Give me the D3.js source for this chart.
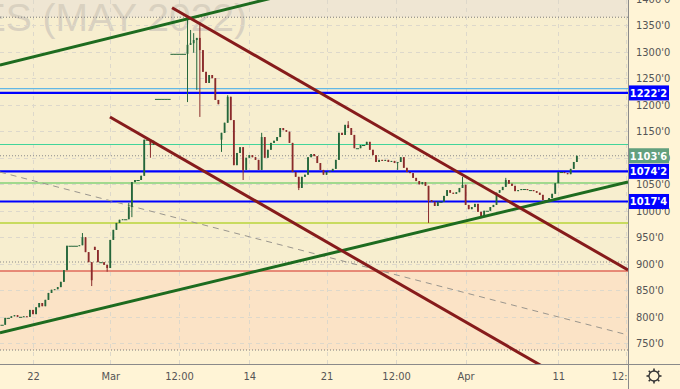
<!DOCTYPE html>
<html>
<head>
<meta charset="utf-8">
<script src="https://cdn.jsdelivr.net/npm/d3@7"></script>
<style>
  body { margin: 0; background: #fff4d6; }
  text { font-family: "Liberation Sans Narrow", "DejaVu Sans Condensed", "Liberation Sans", sans-serif; }
</style>
</head>
<body>
<div id="chart"></div>
<script>
// ---- data ----
// closes of the bars, 5 bars per trading day, first bar 2 days before Feb 22
var closes = [
  785, 798, 798, 801, 803, 800, 800, 801, 800, 813,
  805, 818, 826, 820, 832, 845, 851, 852, 856, 866,
  888, 934, 934, 934, 934, 935, 950, 922, 903, 869,
  926, 903, 903, 898, 892, 945, 964, 977, 983, 984,
  984, 1007, 1054, 1058, 1058, 1066, 1134, 1134, 1124, 1132,
  1211, 1211, 1211, 1211, 1211, 1296, 1296, 1296, 1296, 1296,
  1313, 1316, 1322, 1326, 1303, 1262, 1241, 1256, 1250, 1209,
  1201, 1147, 1166, 1215, 1171, 1086, 1109, 1120, 1077, 1100,
  1105, 1101, 1096, 1077, 1139, 1100, 1115, 1128, 1132, 1139,
  1156, 1152, 1149, 1128, 1073, 1064, 1043, 1064, 1068, 1101,
  1107, 1103, 1090, 1077, 1068, 1073, 1075, 1079, 1096, 1147,
  1143, 1162, 1156, 1143, 1118, 1118, 1124, 1124, 1130, 1115,
  1105, 1092, 1096, 1094, 1096, 1092, 1094, 1090, 1092, 1101,
  1081, 1073, 1071, 1062, 1056, 1050, 1054, 1047, 1020, 1017,
  1009, 1017, 1017, 1028, 1039, 1034, 1032, 1035, 1043, 1049,
  1011, 1003, 1007, 1013, 998, 990, 1000, 1000, 1007, 1011,
  1034, 1039, 1045, 1058, 1051, 1047, 1037, 1039, 1041, 1041,
  1039, 1039, 1037, 1034, 1030, 1020, 1020, 1024, 1032, 1052,
  1073, 1073, 1071, 1069, 1079, 1092, 1103.75
];
// [bar, high, low] for the longer wicks
var wicks = [
  [26, 958, null], [29, null, 858], [34, null, 885], [41, 1015, null],
  [42, null, 988], [48, null, 1100], [60, 1365, 1205], [61, 1341, null],
  [62, 1335, 1298], [63, null, 1228], [64, 1356, 1177], [71, null, 1111],
  [73, 1218, null], [78, null, 1058], [84, 1147, null], [96, null, 1039],
  [112, 1169, null], [128, null, 1077], [138, null, 977], [149, 1064, null],
  [155, null, 986], [163, 1062, null]
];
// bars that open away from the previous close
var gapOpens = [[30, 932], [50, 1211], [55, 1296], [71, 1134]];
var firstBarDay = -2, barsPerDay = 5;

var xTickDays = [0, 5, 9.45, 14, 19, 23.5, 28, 34, 38.35];
var xTickLabels = ["22", "Mar", "12:00", "14", "21", "12:00", "Apr", "11", "12:00"];
var yTicks = [750, 800, 850, 900, 950, 1000, 1050, 1100, 1150, 1200, 1250, 1300, 1350, 1400];

var levelPrices = [1365, 1230.5, 1222.25, 1125, 1103.75, 1074.25, 1052.4, 1017.5, 977, 903.4, 886.4, 737.4];
var tagPrices = [1222.25, 1103.75, 1074.25, 1017.5];
var zoneEdges = [1397.5, 1365, 886.4, 737.4, 711];

// trend lines: [day0, price0, day1, price1]
var greenLines = [[-2.14, 1275, 16, 1405], [-2.14, 770, 38.51, 1054.3]];
var redLines = [[9.0, 1383, 38.51, 888.3], [4.98, 1176.8, 34, 689.4]];
var dashLine = [-2.14, 1073, 38.51, 765.7];

// ---- layout ----
var W = 680, H = 389, plotW = 628, plotH = 364;

var svg = d3.select("#chart").append("svg")
    .attr("width", W)
    .attr("height", H);

var x = d3.scaleLinear().domain([-2.136, 38.51]).range([0, plotW]);
var y = d3.scaleLinear().domain([711, 1397.5]).range([plotH, 0]);
var barStep = x(1 / barsPerDay) - x(0);

var fmt = function(v) { var f = Math.floor(v); return f + "'" + Math.round((v - f) * 8); };

svg.append("rect").attr("width", W).attr("height", H).attr("fill", "#fff4d6");

svg.append("clipPath").attr("id", "plotclip")
  .append("rect").attr("width", plotW).attr("height", plotH);

var plot = svg.append("g").attr("clip-path", "url(#plotclip)");

// background zones
var zoneFills = ["#efe6d3", "#f7eecf", "#fbe3c6", "#fdf1d2"];
plot.selectAll(".zone")
    .data(d3.pairs(zoneEdges))
  .enter().append("rect")
    .attr("x", 0)
    .attr("width", plotW)
    .attr("y", function(d) { return y(d[0]); })
    .attr("height", function(d) { return y(d[1]) - y(d[0]); })
    .attr("fill", function(d, i) { return zoneFills[i]; });

// watermark
plot.append("text")
    .attr("x", 247).attr("y", 31)
    .attr("text-anchor", "end")
    .style("font-family", "'Liberation Sans', Arial, sans-serif")
    .style("font-size", "39px")
    .attr("fill", "#d9d1c0")
    .text("WHEAT FUTURES (MAY 2022)");

// grid
plot.selectAll(".hgrid")
    .data(yTicks)
  .enter().append("line")
    .attr("x1", 0).attr("x2", plotW)
    .attr("y1", function(d) { return Math.round(y(d)) + 0.5; })
    .attr("y2", function(d) { return Math.round(y(d)) + 0.5; })
    .attr("stroke", "#ddd8cb").attr("stroke-dasharray", "4,4");

plot.selectAll(".vgrid")
    .data(xTickDays)
  .enter().append("line")
    .attr("x1", function(d) { return Math.round(x(d)) + 0.5; })
    .attr("x2", function(d) { return Math.round(x(d)) + 0.5; })
    .attr("y1", 0).attr("y2", plotH)
    .attr("stroke", "#ddd8cb").attr("stroke-dasharray", "4,4");

// horizontal levels
var levelStyles = [
  ["#7a7a7a", 1, "1,2"], ["#62b8e6", 1.2, null], ["#0000ff", 2.2, null], ["#42d49a", 1.2, null],
  ["#8a8a8a", 1, "1,2"], ["#0000ff", 2.2, null], ["#4cc44c", 1.2, null], ["#0000ff", 2.2, null],
  ["#b8d43a", 1.5, null], ["#8a8a8a", 1, "1,2"], ["#e06a5a", 1.5, null], ["#7a7a7a", 1, "1,2"]
];
plot.selectAll(".level")
    .data(levelPrices)
  .enter().append("line")
    .attr("x1", 0).attr("x2", plotW)
    .attr("y1", function(d) { return y(d); })
    .attr("y2", function(d) { return y(d); })
    .attr("stroke", function(d, i) { return levelStyles[i][0]; })
    .attr("stroke-width", function(d, i) { return levelStyles[i][1]; })
    .attr("stroke-dasharray", function(d, i) { return levelStyles[i][2]; });

// dashed gray line
plot.append("line")
    .attr("x1", x(dashLine[0])).attr("y1", y(dashLine[1]))
    .attr("x2", x(dashLine[2])).attr("y2", y(dashLine[3]))
    .attr("stroke", "#9a968e").attr("stroke-width", 1).attr("stroke-dasharray", "6,5");

// candles
var bars = closes.map(function(c, i) {
  return { day: firstBarDay + i / barsPerDay, open: i ? closes[i - 1] : c, close: c };
});
gapOpens.forEach(function(g) { bars[g[0]].open = g[1]; });
bars.forEach(function(b) { b.high = Math.max(b.open, b.close); b.low = Math.min(b.open, b.close); });
wicks.forEach(function(w) {
  var b = bars[w[0]];
  if (w[1] != null) b.high = Math.max(b.high, w[1]);
  if (w[2] != null) b.low = Math.min(b.low, w[2]);
});

var candleColour = function(d) { return d.close >= d.open ? "#24663a" : "#8a2b2b"; };
var bodyWidth = function(d) { return d.open === d.close ? barStep + 0.2 : 1.8; };

var candles = plot.selectAll(".bar")
    .data(bars)
  .enter().append("g");

candles.append("line")
    .attr("x1", function(d) { return x(d.day); })
    .attr("x2", function(d) { return x(d.day); })
    .attr("y1", function(d) { return y(d.high); })
    .attr("y2", function(d) { return y(d.low); })
    .attr("stroke", candleColour).attr("stroke-width", 1);

candles.append("rect")
    .attr("x", function(d) { return x(d.day) - bodyWidth(d) / 2; })
    .attr("width", bodyWidth)
    .attr("y", function(d) { return y(Math.max(d.open, d.close)); })
    .attr("height", function(d) { return Math.max(1, Math.abs(y(d.open) - y(d.close))); })
    .attr("fill", candleColour);

// trend lines
plot.selectAll(".green")
    .data(greenLines)
  .enter().append("line")
    .attr("x1", function(d) { return x(d[0]); }).attr("y1", function(d) { return y(d[1]); })
    .attr("x2", function(d) { return x(d[2]); }).attr("y2", function(d) { return y(d[3]); })
    .attr("stroke", "#1d6b1f").attr("stroke-width", 3);

plot.selectAll(".red")
    .data(redLines)
  .enter().append("line")
    .attr("x1", function(d) { return x(d[0]); }).attr("y1", function(d) { return y(d[1]); })
    .attr("x2", function(d) { return x(d[2]); }).attr("y2", function(d) { return y(d[3]); })
    .attr("stroke", "#861b1b").attr("stroke-width", 3);

// axes
var yAxis = svg.append("g")
    .attr("transform", "translate(" + plotW + ",0)")
    .call(d3.axisRight(y).tickValues(yTicks).tickFormat(fmt).tickSize(0).tickPadding(8));
yAxis.select(".domain").remove();
yAxis.selectAll("text").attr("fill", "#555").style("font-size", "11px");

svg.append("clipPath").attr("id", "xclip")
  .append("rect").attr("y", plotH).attr("width", plotW).attr("height", H - plotH);

var xAxis = svg.append("g")
    .attr("clip-path", "url(#xclip)")
  .append("g")
    .attr("transform", "translate(0," + plotH + ")")
    .call(d3.axisBottom(x).tickValues(xTickDays).tickFormat(function(d, i) { return xTickLabels[i]; }).tickSize(0).tickPadding(8));
xAxis.select(".domain").remove();
xAxis.selectAll("text").attr("fill", "#555").style("font-size", "11px");

// price tags on the right axis
var tagColours = ["#0000ff", "#62a07e", "#0000ff", "#0000ff"];
var tags = svg.selectAll(".tag")
    .data(tagPrices)
  .enter().append("g")
    .attr("transform", function(d) { return "translate(" + plotW + "," + y(d) + ")"; });
tags.append("rect")
    .attr("x", 0).attr("y", -7.5).attr("width", 41).attr("height", 15)
    .attr("fill", function(d, i) { return tagColours[i]; });
tags.append("text")
    .attr("x", 20.5).attr("dy", "0.35em")
    .attr("text-anchor", "middle")
    .attr("fill", "#fff")
    .style("font-size", "11px").style("font-weight", "bold")
    .text(fmt);

// borders
svg.append("line").attr("x1", plotW + 0.5).attr("x2", plotW + 0.5).attr("y1", 0).attr("y2", H)
    .attr("stroke", "#8a8a8a");
svg.append("line").attr("x1", 0).attr("x2", W).attr("y1", plotH + 0.5).attr("y2", plotH + 0.5)
    .attr("stroke", "#8a8a8a");

// settings gear
var gear = svg.append("g").attr("transform", "translate(654,376)");
gear.selectAll("line")
    .data(d3.range(8))
  .enter().append("line")
    .attr("x1", 0).attr("y1", -5).attr("x2", 0).attr("y2", -7.5)
    .attr("transform", function(d) { return "rotate(" + d * 45 + ")"; })
    .attr("stroke", "#333").attr("stroke-width", 1.6);
gear.append("circle").attr("r", 5).attr("fill", "none").attr("stroke", "#333").attr("stroke-width", 1.3);
</script>
</body>
</html>
